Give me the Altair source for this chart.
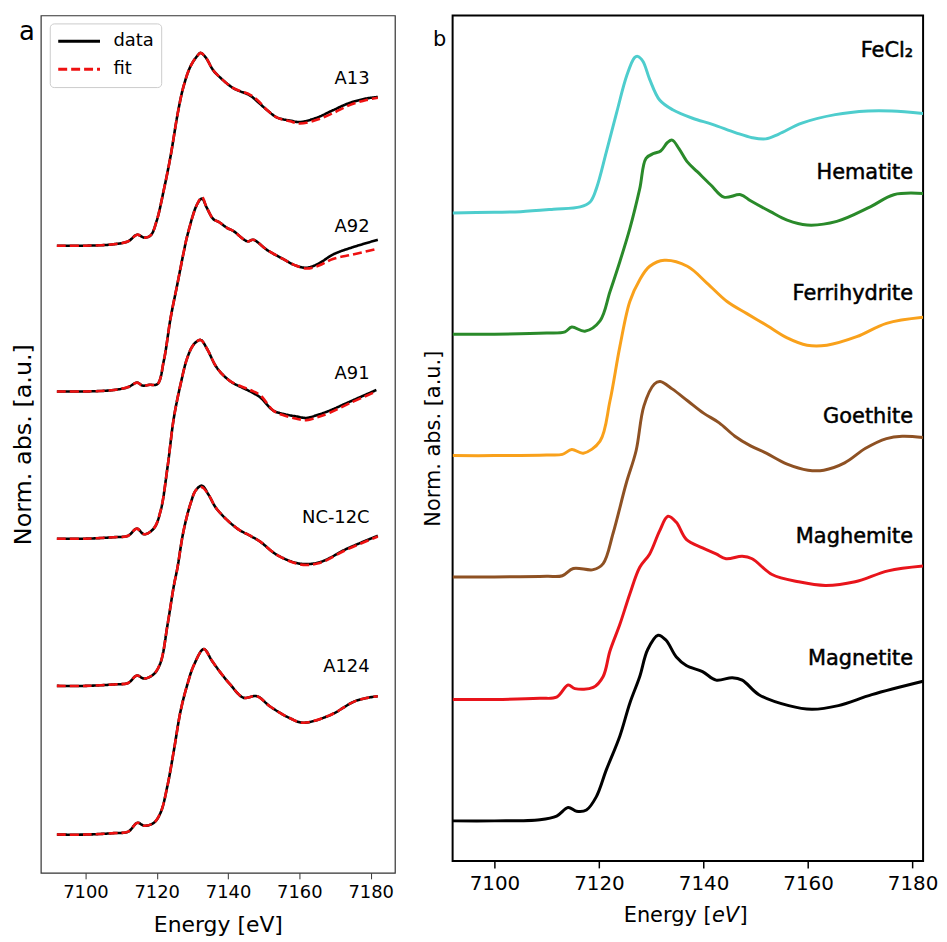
import altair as alt
import pandas as pd

FONT = "DejaVu Sans"

# ---------------- Panel a : measured spectra (data) and linear-combination fits ----------------
A_SAMPLES = ["A13", "A92", "A91", "NC-12C", "A124"]
A_OFFSETS = [4.26, 3.27, 2.27, 1.27, 0.26]

A13_E = [7092, 7100, 7108, 7112, 7114.5, 7116.5, 7118.3, 7120, 7122, 7123.9, 7125.9, 7127.5, 7129.5,
         7131.4, 7132.3, 7133.7, 7135.9, 7137.9, 7141.5, 7146.2, 7148.2, 7151, 7153.8, 7157.4, 7160.2,
         7164.9, 7169.4, 7174.1, 7178.8, 7182]
A13_DATA = [0.0, 0.0, 0.01, 0.03, 0.075, 0.055, 0.07, 0.17, 0.38, 0.61, 0.90, 1.08, 1.22,
            1.29, 1.31, 1.28, 1.19, 1.14, 1.07, 1.02, 0.98, 0.92, 0.87, 0.85, 0.84,
            0.87, 0.92, 0.97, 1.00, 1.01]
A13_FIT = [0.0, 0.0, 0.01, 0.03, 0.075, 0.055, 0.07, 0.17, 0.38, 0.61, 0.90, 1.08, 1.22,
           1.29, 1.31, 1.28, 1.19, 1.14, 1.07, 1.025, 0.99, 0.92, 0.87, 0.845, 0.83,
           0.855, 0.90, 0.955, 0.99, 1.005]

A92_E = [7092, 7100, 7108, 7112, 7114.5, 7116, 7118, 7120.2, 7122, 7123.9, 7125.8, 7127.6, 7128.6,
         7131.3, 7132.7, 7134, 7135.9, 7137.5, 7139.8, 7141.5, 7145.4, 7147.1, 7151, 7155.4, 7158.5,
         7162, 7165.5, 7169.4, 7175, 7182]
A92_DATA = [0.0, 0.0, 0.01, 0.03, 0.06, 0.04, 0.045, 0.05, 0.21, 0.50, 0.73, 0.95, 1.06,
            1.27, 1.31, 1.25, 1.17, 1.15, 1.11, 1.09, 1.02, 1.03, 0.96, 0.90, 0.86,
            0.84, 0.87, 0.93, 0.98, 1.03]
A92_FIT = [0.0, 0.0, 0.01, 0.03, 0.06, 0.04, 0.045, 0.05, 0.21, 0.50, 0.73, 0.95, 1.06,
           1.27, 1.32, 1.25, 1.17, 1.15, 1.11, 1.09, 1.02, 1.03, 0.96, 0.90, 0.86,
           0.835, 0.855, 0.90, 0.93, 0.97]

A91_E = [7092, 7100, 7108, 7112, 7114.4, 7116.5, 7119.2, 7121.1, 7123, 7124.8, 7126.7, 7128.6, 7130.4,
         7132.3, 7134.1, 7136.9, 7140.6, 7146.2, 7149, 7152.7, 7156, 7159.2, 7162, 7165, 7168.5,
         7174.1, 7181.6]
A91_DATA = [0.0, 0.0, 0.01, 0.02, 0.068, 0.03, 0.07, 0.19, 0.48, 0.82, 1.05, 1.23, 1.32,
            1.35, 1.29, 1.16, 1.07, 1.00, 0.96, 0.87, 0.845, 0.83, 0.82, 0.84, 0.87,
            0.93, 1.01]
A91_FIT = [0.0, 0.0, 0.01, 0.02, 0.068, 0.03, 0.07, 0.19, 0.48, 0.82, 1.05, 1.23, 1.32,
           1.35, 1.29, 1.16, 1.07, 1.01, 0.975, 0.87, 0.835, 0.815, 0.805, 0.825, 0.855,
           0.92, 1.00]

NC12C_E = [7092, 7100, 7108, 7112, 7114.4, 7116.5, 7119.2, 7121.1, 7123, 7124.8, 7125.8, 7127.5,
           7129.5, 7131, 7132.7, 7134.5, 7136.9, 7142.5, 7146.2, 7149, 7153.7, 7160.2, 7165.7,
           7173.2, 7182]
NC12C_DATA = [0.0, 0.0, 0.01, 0.02, 0.07, 0.05, 0.08, 0.16, 0.41, 0.68, 0.80, 1.05,
              1.24, 1.33, 1.36, 1.30, 1.20, 1.07, 1.02, 0.98, 0.89, 0.83, 0.84,
              0.93, 1.02]
NC12C_FIT = [0.0, 0.0, 0.01, 0.02, 0.07, 0.05, 0.08, 0.16, 0.41, 0.68, 0.80, 1.05,
             1.24, 1.33, 1.35, 1.30, 1.20, 1.07, 1.02, 0.98, 0.89, 0.825, 0.835,
             0.925, 1.015]

A124_E = [7092, 7100, 7108, 7112, 7114.6, 7116.5, 7119.2, 7121.1, 7123, 7124.8, 7126.7, 7128.6,
          7130.4, 7133.2, 7135.5, 7137.9, 7140.6, 7144.3, 7148.1, 7151.8, 7157.4, 7161.1, 7168.5,
          7176, 7182]
A124_DATA = [0.0, 0.0, 0.01, 0.02, 0.08, 0.06, 0.08, 0.15, 0.33, 0.57, 0.84, 1.02,
             1.15, 1.26, 1.18, 1.10, 1.02, 0.93, 0.94, 0.87, 0.79, 0.76, 0.81,
             0.91, 0.94]
A124_FIT = [0.0, 0.0, 0.01, 0.02, 0.08, 0.06, 0.08, 0.15, 0.33, 0.57, 0.84, 1.02,
            1.15, 1.26, 1.18, 1.10, 1.02, 0.93, 0.94, 0.87, 0.79, 0.76, 0.81,
            0.91, 0.94]

A_ENERGIES = [A13_E, A92_E, A91_E, NC12C_E, A124_E]
A_DATA = [A13_DATA, A92_DATA, A91_DATA, NC12C_DATA, A124_DATA]
A_FIT = [A13_FIT, A92_FIT, A91_FIT, NC12C_FIT, A124_FIT]
A_LABEL_Y = [5.39, 4.39, 3.39, 2.41, 1.40]
A_LABEL_E = 7179.7

# ---------------- Panel b : reference compounds ----------------
B_NAMES = ["FeCl₂", "Hematite", "Ferrihydrite", "Goethite", "Maghemite", "Magnetite"]
B_COLORS = ["#4ECDCD", "#2A8A2A", "#F9A11B", "#8E5123", "#E8141B", "#000000"]
B_OFFSETS = [5.34, 4.34, 3.34, 2.34, 1.33, 0.33]
B_LABEL_Y = [6.67, 5.67, 4.67, 3.66, 2.67, 1.66]
B_LABEL_E = 7180.1

FECL2_E = [7092, 7100, 7105, 7111.3, 7116.4, 7118.3, 7119.5, 7121.4, 7123.4, 7125.3, 7126.8, 7127.4,
           7128.4, 7129.7, 7131.6, 7134.1, 7137.9, 7141.7, 7146.2, 7149.3, 7151.9, 7154.4, 7158.8,
           7165.2, 7171.5, 7176, 7182]
FECL2_Y = [0.0, 0.005, 0.01, 0.03, 0.05, 0.09, 0.20, 0.50, 0.83, 1.13, 1.28, 1.29,
           1.25, 1.10, 0.93, 0.85, 0.78, 0.73, 0.66, 0.62, 0.61, 0.65, 0.74,
           0.81, 0.84, 0.84, 0.82]

HEM_E = [7092, 7100, 7110, 7113.5, 7114.8, 7117.3, 7120.2, 7122.1, 7124, 7125.9, 7127.8, 7129, 7130.5,
         7131.8, 7133.1, 7134, 7135.3, 7136.9, 7138.8, 7141.4, 7143.9, 7147.1, 7149, 7152.8, 7156,
         7159.8, 7165.5, 7171.9, 7176.4, 7182]
HEM_Y = [0.0, 0.0, 0.01, 0.02, 0.06, 0.025, 0.11, 0.35, 0.60, 0.87, 1.20, 1.45, 1.49,
         1.51, 1.58, 1.60, 1.53, 1.42, 1.34, 1.23, 1.13, 1.15, 1.10, 1.01, 0.94,
         0.90, 0.93, 1.05, 1.15, 1.16]

FERRI_E = [7092, 7100, 7110, 7113, 7114.8, 7117, 7120.2, 7122.1, 7124, 7125.9, 7127.8, 7129.7, 7132.5,
           7136.9, 7140.7, 7144.5, 7148.3, 7152.2, 7156, 7159.8, 7163.6, 7169.3, 7175, 7182]
FERRI_Y = [0.0, 0.0, 0.005, 0.01, 0.05, 0.02, 0.12, 0.45, 0.90, 1.27, 1.45, 1.56, 1.61,
           1.56, 1.42, 1.27, 1.17, 1.07, 0.97, 0.91, 0.91, 0.98, 1.09, 1.14]

GOE_E = [7092, 7100, 7110, 7113, 7115.1, 7118.9, 7120.8, 7122.7, 7125.2, 7127.1, 7128.6, 7130.6, 7131.7,
         7134, 7137, 7140, 7143, 7146, 7149, 7152, 7156, 7160, 7163, 7167, 7171, 7175, 7178, 7182]
GOE_Y = [0.0, 0.0, 0.005, 0.01, 0.07, 0.06, 0.11, 0.36, 0.77, 1.04, 1.41, 1.59, 1.61,
         1.55, 1.45, 1.35, 1.27, 1.16, 1.08, 1.02, 0.93, 0.88, 0.88, 0.94, 1.06, 1.14, 1.16, 1.15]

MAGH_E = [7092, 7100, 7108.7, 7111.9, 7114.1, 7115.4, 7118.9, 7120.8, 7122.1, 7124, 7125.9, 7127.8,
          7129.7, 7131.6, 7133.2, 7134.8, 7136.7, 7139.8, 7142.4, 7144.3, 7147.4, 7149.3, 7153.1,
          7158.2, 7163.3, 7169, 7175.3, 7182]
MAGH_Y = [0.0, 0.0, 0.01, 0.02, 0.12, 0.09, 0.10, 0.19, 0.40, 0.62, 0.87, 1.09,
          1.20, 1.39, 1.51, 1.46, 1.32, 1.25, 1.20, 1.16, 1.18, 1.16, 1.03,
          0.97, 0.94, 0.97, 1.06, 1.10]

MAGN_E = [7092, 7100, 7108.7, 7111.9, 7114.1, 7115.7, 7117.6, 7119.5, 7121.4, 7124, 7125.9, 7127.8,
          7129.3, 7131.3, 7132.8, 7134.8, 7136.7, 7139.8, 7142.4, 7145.5, 7147.4, 7150.6, 7156.3,
          7160.7, 7165.8, 7172.2, 7182]
MAGN_Y = [0.0, 0.0, 0.01, 0.04, 0.11, 0.08, 0.09, 0.20, 0.42, 0.70, 0.97, 1.19,
          1.41, 1.53, 1.49, 1.35, 1.28, 1.23, 1.16, 1.18, 1.16, 1.04, 0.95,
          0.92, 0.95, 1.04, 1.15]

B_ENERGIES = [FECL2_E, HEM_E, FERRI_E, GOE_E, MAGH_E, MAGN_E]
B_VALUES = [FECL2_Y, HEM_Y, FERRI_Y, GOE_Y, MAGH_Y, MAGN_Y]

# ---------------- tables ----------------
rows_a = []
for name, off, es, dv, fv in zip(A_SAMPLES, A_OFFSETS, A_ENERGIES, A_DATA, A_FIT):
    for e, d, f in zip(es, dv, fv):
        rows_a.append({"sample": name, "kind": "data", "E": e, "y": off + d})
        rows_a.append({"sample": name, "kind": "fit", "E": e, "y": off + f})
df_a = pd.DataFrame(rows_a)
df_a_data = df_a[df_a.kind == "data"]
df_a_fit = df_a[df_a.kind == "fit"]
df_a_lab = pd.DataFrame({"label": A_SAMPLES, "E": [A_LABEL_E] * len(A_SAMPLES), "y": A_LABEL_Y})

rows_b = []
for name, off, es, vs in zip(B_NAMES, B_OFFSETS, B_ENERGIES, B_VALUES):
    for e, v in zip(es, vs):
        rows_b.append({"ref": name, "E": e, "y": off + v})
df_b = pd.DataFrame(rows_b)
df_b_lab = pd.DataFrame({"label": B_NAMES, "E": [B_LABEL_E] * len(B_NAMES), "y": B_LABEL_Y})

TICKS = [7100, 7120, 7140, 7160, 7180]
INTERP = "catmull-rom"

# ---------------- panel a ----------------
xa = alt.Scale(domain=[7087.5, 7186.8], nice=False, zero=False)
ya = alt.Scale(domain=[0, 5.824], nice=False, zero=False)
x_axis_a = alt.Axis(values=TICKS, format="d", tickSize=6, tickWidth=1, tickColor="#333333",
                    labelFontSize=18, labelPadding=5, labelColor="black", labelFont=FONT,
                    domain=False, grid=False, title="Energy [eV]", titleFontSize=22,
                    titleFontWeight="normal", titlePadding=13, titleColor="black", titleFont=FONT)
y_axis_a = alt.Axis(title="Norm. abs. [a.u.]", labels=False, ticks=False, domain=False, grid=False,
                    titleFontSize=24, titleFontWeight="normal", titlePadding=5, titleColor="black",
                    titleFont=FONT)
kind_color = alt.Scale(domain=["data", "fit"], range=["#000000", "#EE1111"])
kind_dash = alt.Scale(domain=["data", "fit"], range=[[1, 0], [9, 4]])
leg = alt.Legend(title=None, orient="none", legendX=9, legendY=8, symbolType="stroke",
                 symbolSize=1764, symbolStrokeWidth=3, labelFontSize=18, labelFont=FONT,
                 labelColor="black", labelOffset=12, padding=7, strokeColor="#cccccc",
                 fillColor="white", cornerRadius=4, clipHeight=22, rowPadding=6)

base_a_enc = dict(
    x=alt.X("E:Q", scale=xa, axis=x_axis_a),
    y=alt.Y("y:Q", scale=ya, axis=y_axis_a),
    color=alt.Color("kind:N", scale=kind_color, legend=leg),
    strokeDash=alt.StrokeDash("kind:N", scale=kind_dash, legend=leg),
    detail="sample:N",
)
line_data = alt.Chart(df_a_data).mark_line(strokeWidth=2.6, interpolate=INTERP).encode(**base_a_enc)
line_fit = alt.Chart(df_a_fit).mark_line(strokeWidth=2.6, interpolate=INTERP).encode(**base_a_enc)
lab_a = alt.Chart(df_a_lab).mark_text(align="right", baseline="middle", fontSize=18, font=FONT,
                                      color="black").encode(x="E:Q", y="y:Q", text="label:N")
letter_a = alt.Chart(pd.DataFrame({"t": ["a"]})).mark_text(
    align="center", baseline="alphabetic", fontSize=26, font=FONT, color="black"
).encode(text="t:N", x=alt.value(-14), y=alt.value(25))

panel_a = alt.layer(line_data, line_fit, lab_a, letter_a).properties(
    width=356, height=862,
    view=alt.ViewBackground(stroke="#333333", strokeWidth=1.2),
)

# ---------------- panel b ----------------
xb = alt.Scale(domain=[7092, 7182], nice=False, zero=False)
yb = alt.Scale(domain=[0, 6.967], nice=False, zero=False)
x_axis_b = alt.Axis(values=TICKS, format="d", tickSize=7, tickWidth=1.5, tickColor="black",
                    labelFontSize=20, labelPadding=6, labelColor="black", labelFont=FONT,
                    domain=False, grid=False, title=None)
y_axis_b = alt.Axis(title="Norm. abs. [a.u.]", labels=False, ticks=False, domain=False, grid=False,
                    titleFontSize=21, titleFontWeight="normal", titlePadding=9, titleColor="black",
                    titleFont=FONT)
lines_b = alt.Chart(df_b).mark_line(strokeWidth=3, interpolate=INTERP, clip=True).encode(
    x=alt.X("E:Q", scale=xb, axis=x_axis_b),
    y=alt.Y("y:Q", scale=yb, axis=y_axis_b),
    color=alt.Color("ref:N", scale=alt.Scale(domain=B_NAMES, range=B_COLORS), legend=None),
    detail="ref:N",
)
lab_b = alt.Chart(df_b_lab).mark_text(align="right", baseline="middle", fontSize=21, font=FONT,
                                      color="black", stroke="black", strokeWidth=0.5).encode(
    x="E:Q", y="y:Q", text="label:N")
letter_b = alt.Chart(pd.DataFrame({"t": ["b"]})).mark_text(
    align="center", baseline="alphabetic", fontSize=21, font=FONT, color="black"
).encode(text="t:N", x=alt.value(-13), y=alt.value(31))
t1 = alt.Chart(pd.DataFrame({"t": ["Energy ["]})).mark_text(
    align="left", baseline="alphabetic", fontSize=21, font=FONT, color="black"
).encode(text="t:N", x=alt.value(172), y=alt.value(911))
t2 = alt.Chart(pd.DataFrame({"t": ["eV"]})).mark_text(
    align="left", baseline="alphabetic", fontSize=21, font=FONT, fontStyle="italic", color="black"
).encode(text="t:N", x=alt.value(260.8), y=alt.value(911))
t3 = alt.Chart(pd.DataFrame({"t": ["]"]})).mark_text(
    align="left", baseline="alphabetic", fontSize=21, font=FONT, color="black"
).encode(text="t:N", x=alt.value(288.5), y=alt.value(911))

panel_b = alt.layer(lines_b, lab_b, letter_b, t1, t2, t3).properties(
    width=473, height=850,
    view=alt.ViewBackground(stroke="black", strokeWidth=2),
)

chart = alt.hconcat(panel_a, panel_b, spacing=26).resolve_scale(
    color="independent", strokeDash="independent"
).resolve_legend(color="independent", strokeDash="independent").properties(
    padding={"left": 3, "top": 4, "right": 0, "bottom": 0}
).configure(font=FONT).configure_legend(labelFont=FONT)

chart.save("out.html", embed_options={"renderer": "svg", "actions": False})
